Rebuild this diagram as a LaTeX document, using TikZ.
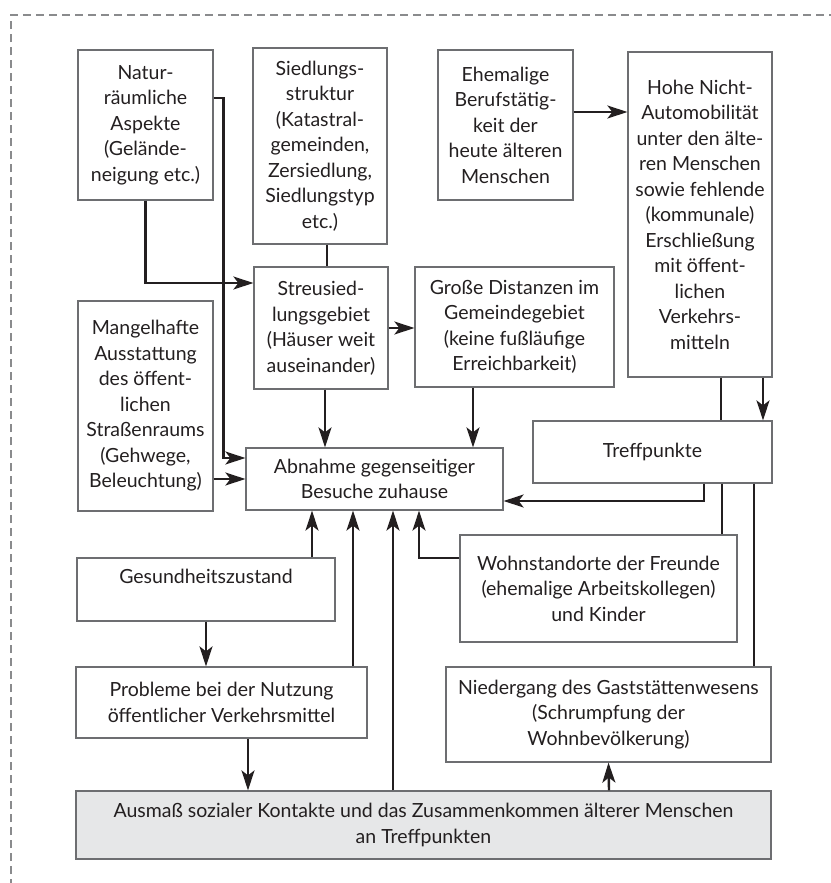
\documentclass[tikz,border=0pt]{standalone}
\usepackage{fontspec}
\setmainfont{Lato}
\usetikzlibrary{arrows.meta,calc}
\definecolor{BoxGray}{HTML}{6D6E71}
\definecolor{InkBlack}{HTML}{231F20}
\definecolor{FillGray}{HTML}{E6E7E8}
\definecolor{FrameGray}{HTML}{8A8B8D}
\tikzset{
    block/.style = {draw=BoxGray, line width=1.2pt, rectangle,
        align=center, inner sep=0pt, text=InkBlack,
        font=\fontsize{19.5}{25.5}\selectfont},
    arrow/.style = {draw=InkBlack, line width=2.4pt,
        -{Stealth[length=20pt,width=13pt,inset=5pt]}},
    link/.style = {draw=InkBlack, line width=2.4pt}
}

\begin{document}
\begin{tikzpicture}[x=1pt,y=-1pt]
    \useasboundingbox (0,0) rectangle (830,883);
    \draw[FrameGray, line width=2pt, dash pattern=on 8pt off 5pt] (11,900) -- (11,15) -- (850,15);
    % top row
    \node[block, minimum width=135pt, minimum height=150pt] (natur) at (145.5,125)
        {Natur-\\räumliche\\Aspekte\\(Gelände-\\neigung etc.)};
    \node[block, minimum width=134pt, minimum height=196pt] (siedl) at (320,146)
        {Siedlungs-\\struktur\\(Katastral-\\gemeinden,\\Zersiedlung,\\Siedlungstyp\\etc.)};
    \node[block, minimum width=135pt, minimum height=150pt] (ehem) at (505.5,125)
        {Ehemalige\\Berufstätig-\\keit der\\heute älteren\\Menschen};
    \node[block, minimum width=144pt, minimum height=325pt] (hohe) at (700,214.5)
        {Hohe Nicht-\\Automobilität\\unter den älte-\\ren Menschen\\sowie fehlende\\(kommunale)\\Erschließung\\mit öffent-\\lichen\\Verkehrs-\\mitteln};
    % middle
    \node[block, minimum width=134pt, minimum height=122pt] (streu) at (321,328)
        {Streusied-\\lungsgebiet\\(Häuser weit\\auseinander)};
    \node[block, minimum width=199pt, minimum height=120pt] (grosse) at (514.5,327)
        {Große Distanzen im\\Gemeindegebiet\\(keine fußläufige\\Erreichbarkeit)};
    \node[block, minimum width=135pt, minimum height=210pt] (mangel) at (145.5,406)
        {Mangelhafte\\Ausstattung\\des öffent-\\lichen\\Straßenraums\\(Gehwege,\\Beleuchtung)};
    \node[block, minimum width=257pt, minimum height=62pt] (abnahme) at (374.5,479)
        {Abnahme gegenseitiger\\Besuche zuhause};
    \node[block, minimum width=239pt, minimum height=62pt] (treff) at (652.5,452)
        {Treffpunkte};
    \node[block, minimum width=277pt, minimum height=107pt] (wohn) at (598.5,588.5)
        {Wohnstandorte der Freunde\\(ehemalige Arbeitskollegen)\\und Kinder};
    % bottom
    \node[block, minimum width=258pt, minimum height=63pt] (gesund) at (206,589.5)
        {Gesundheitszustand\\\mbox{}};
    \node[block, minimum width=291pt, minimum height=71pt] (probl) at (221.5,702.5)
        {Probleme bei der Nutzung\\öffentlicher Verkehrsmittel};
    \node[block, minimum width=325pt, minimum height=95pt] (nieder) at (608.5,714.5)
        {Niedergang des Gaststättenwesens\\(Schrumpfung der\\Wohnbevölkerung)};
    \node[block, fill=FillGray, minimum width=695pt, minimum height=68pt] (ausmass) at (423.5,825)
        {Ausmaß sozialer Kontakte und das Zusammenkommen älterer Menschen\\an Treffpunkten};
    % connectors
    \draw[arrow] (natur.south) |- ([yshift=45pt]streu.west);
    \draw[arrow] ([yshift=27pt]natur.east) -- ++(10,0) |- ([yshift=21pt]abnahme.west);
    \draw[arrow] (mangel.east |- abnahme.west) -- (abnahme.west);
    \draw[link] ([xshift=7pt]siedl.south) -- ([xshift=6pt]streu.north);
    \draw[arrow] (streu.east) -- (streu.east -| grosse.west);
    \draw[arrow] ([xshift=4pt]streu.south) -- ([xshift=-49.5pt]abnahme.north);
    \draw[arrow] ([xshift=-41.5pt]grosse.south) -- ([xshift=98.5pt]abnahme.north);
    \draw[arrow] ([yshift=13pt]ehem.east) -- ([yshift=102.5pt]hohe.west);
    \draw[link] ([xshift=21pt]hohe.south) -- ([xshift=68.5pt]treff.north);
    \draw[arrow] ([xshift=63pt]hohe.south) -- ([xshift=110.5pt]treff.north);
    \draw[arrow] ([xshift=51.5pt]treff.south) |- ([yshift=-22pt]abnahme.east);
    \draw[link] ([xshift=69.5pt]treff.south) -- ([xshift=123.5pt]wohn.north);
    \draw[link] ([xshift=101.5pt]treff.south) -- ([xshift=145.5pt]nieder.north);
    \draw[arrow] ([yshift=30.5pt]wohn.west) -| ([xshift=44.5pt]abnahme.south);
    \draw[arrow] ([xshift=106pt]gesund.north) -- ([xshift=-62.5pt]abnahme.south);
    \draw[arrow] ([xshift=131.5pt]probl.north) -- ([xshift=-21.5pt]abnahme.south);
    \draw[arrow] ([xshift=-30.5pt]ausmass.north) -- ([xshift=18.5pt]abnahme.south);
    \draw[arrow] (gesund.south) -- ([xshift=-15.5pt]probl.north);
    \draw[arrow] ([xshift=26.5pt]probl.south) -- ([xshift=-175.5pt]ausmass.north);
    \draw[arrow] ([xshift=185.5pt]ausmass.north) -- (nieder.south);
\end{tikzpicture}
\end{document}
